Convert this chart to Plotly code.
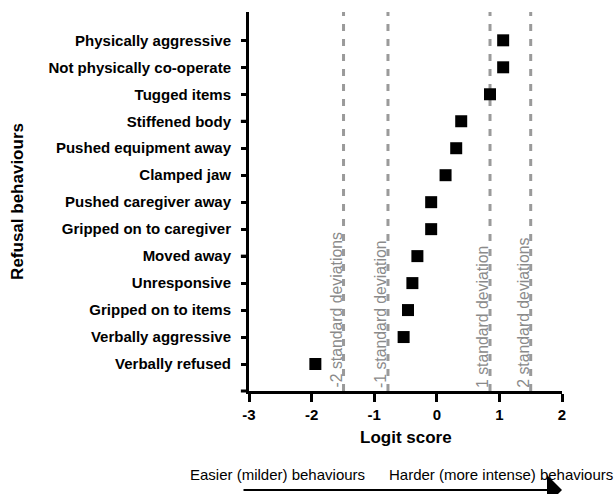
import plotly.graph_objects as go

# Data (bottom to top)
behaviours = [
    "Verbally refused",
    "Verbally aggressive",
    "Gripped on to items",
    "Unresponsive",
    "Moved away",
    "Gripped on to caregiver",
    "Pushed caregiver away",
    "Clamped jaw",
    "Pushed equipment away",
    "Stiffened body",
    "Tugged items",
    "Not physically co-operate",
    "Physically aggressive",
]
logit = [-1.94, -0.53, -0.46, -0.39, -0.31, -0.09, -0.09, 0.14, 0.31, 0.39, 0.85, 1.06, 1.06]

sd_values = [-1.49, -0.78, 0.85, 1.50]
sd_labels = ["-2 standard deviations", "-1 standard deviation",
             "1 standard deviation", "2 standard deviations"]

x_ticks = [-3, -2, -1, 0, 1, 2]
y_major = [4, 9]

FONT = "Arial, Liberation Sans, sans-serif"
idx = list(range(len(behaviours)))

fig = go.Figure()
fig.add_trace(go.Scatter(
    x=logit, y=idx, mode="markers",
    marker=dict(symbol="square", size=12, color="black"),
    showlegend=False, hoverinfo="x+text", text=behaviours,
))

shapes = []
for v in sd_values:
    shapes.append(dict(type="line", xref="x", yref="paper", x0=v, x1=v, y0=0, y1=1,
                       line=dict(color="#9a9a9a", width=3, dash="7px,8px"), layer="below"))
# longer (major) ticks on y axis
shapes.append(dict(type="line", xref="paper", yref="paper", x0=-0.026, x1=0, y0=0, y1=0,
                   line=dict(color="black", width=3)))
for v in y_major:
    shapes.append(dict(type="line", xref="paper", yref="y", x0=-0.026, x1=0, y0=v, y1=v,
                       line=dict(color="black", width=3)))

annotations = []
for v, lab in zip(sd_values, sd_labels):
    annotations.append(dict(x=v, y=0, xref="x", yref="paper", text=lab, textangle=-90,
                            showarrow=False, xanchor="center", yanchor="bottom",
                            xshift=-8, yshift=1,
                            font=dict(family=FONT, size=15.8, color="#8a8a8a")))
annotations.append(dict(x=0.5, y=-0.124, xref="paper", yref="paper", text="Logit score",
                        showarrow=False, xanchor="center", yanchor="middle",
                        font=dict(family=FONT, size=17, color="black", weight="bold")))
annotations.append(dict(x=-0.74, y=0.5, xref="paper", yref="paper", text="Refusal behaviours",
                        textangle=-90, showarrow=False, xanchor="center", yanchor="middle",
                        font=dict(family=FONT, size=17, color="black", weight="bold")))
annotations.append(dict(x=-0.196, y=-0.2216, xref="paper", yref="paper",
                        text="Easier (milder) behaviours", showarrow=False,
                        xanchor="left", yanchor="middle",
                        font=dict(family=FONT, size=15, color="black")))
annotations.append(dict(x=(615 - 249) / 312.7, y=-0.2216, xref="paper", yref="paper",
                        text="Harder (more intense) behaviours", showarrow=False,
                        xanchor="right", yanchor="middle",
                        font=dict(family=FONT, size=15, color="black")))
annotations.append(dict(x=2, y=-0.2612, xref="x", yref="paper", text="",
                        showarrow=True, axref="pixel", ax=-320, ayref="pixel", ay=0,
                        arrowhead=1, arrowwidth=2, arrowsize=2.5, arrowcolor="black",
                        standoff=0, startstandoff=0))

fig.update_layout(
    width=616, height=494,
    margin=dict(l=249, r=54, t=12, b=103),
    paper_bgcolor="white", plot_bgcolor="white",
    shapes=shapes, annotations=annotations,
    xaxis=dict(range=[-3, 2], tickvals=x_ticks, ticktext=[str(t) for t in x_ticks],
               showline=True, linecolor="black", linewidth=3, ticks="outside",
               ticklen=8, tickwidth=3, tickcolor="black", showgrid=False, zeroline=False,
               tickfont=dict(family=FONT, size=15, color="black", weight="bold")),
    yaxis=dict(range=[-1, 13.05], tickvals=idx, ticktext=behaviours,
               showline=True, linecolor="black", linewidth=3, ticks="outside",
               ticklen=5, tickwidth=3, tickcolor="black", showgrid=False, zeroline=False,
               ticklabelstandoff=7,
               tickfont=dict(family=FONT, size=15, color="black", weight="bold")),
)

fig.write_html("out.html", config={"displayModeBar": False},
               post_script="document.body.style.margin='0';document.body.style.overflow='hidden';")
